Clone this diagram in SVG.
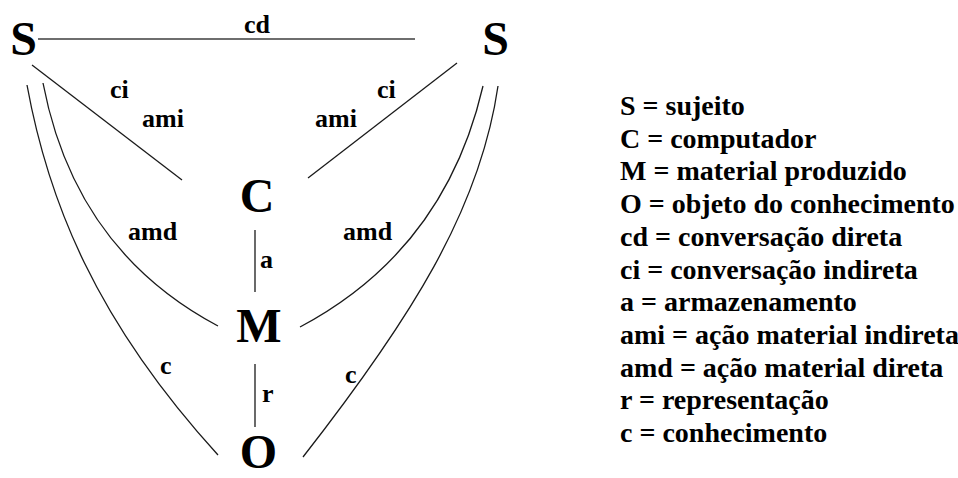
<svg xmlns="http://www.w3.org/2000/svg" width="958" height="478" viewBox="0 0 958 478">
  <style>
    .node { font-family: "Liberation Serif", "Times New Roman", serif; font-weight: bold; font-size: 48px; fill: #000; text-anchor: middle; }
    .lbl { font-family: "Liberation Serif", "Times New Roman", serif; font-weight: bold; font-size: 26px; fill: #000; }
    .leg { font-family: "Liberation Serif", "Times New Roman", serif; font-weight: bold; font-size: 28px; fill: #000; }
    .edge { fill: none; stroke: #1a1a1a; stroke-width: 1.3; }
    .edge-cd { fill: none; stroke: #6e6e6e; stroke-width: 2.2; }
  </style>
  <rect width="958" height="478" fill="#fff"/>

  <g id="connectors">
    <line class="edge-cd" x1="38" y1="39" x2="415" y2="39"/>
    <line class="edge" x1="32" y1="65" x2="182" y2="180"/>
    <line class="edge" x1="457" y1="63" x2="308" y2="178"/>
    <line class="edge" x1="255" y1="230" x2="255" y2="292"/>
    <line class="edge" x1="255" y1="364" x2="255" y2="427"/>
    <path class="edge" d="M43 83 Q75 250 218 326"/>
    <path class="edge" d="M483 86 Q445 250 300 327"/>
    <path class="edge" d="M27 85 C48 200 95 320 218 455"/>
    <path class="edge" d="M498 86 C480 210 410 320 303 457"/>
    <text class="lbl" x="244" y="33">cd</text>
    <text class="lbl" x="110" y="98">ci</text>
    <text class="lbl" x="142" y="127">ami</text>
    <text class="lbl" x="377" y="98">ci</text>
    <text class="lbl" x="315" y="127">ami</text>
    <text class="lbl" x="128" y="240">amd</text>
    <text class="lbl" x="343" y="240">amd</text>
    <text class="lbl" x="260" y="268">a</text>
    <text class="lbl" x="262" y="402">r</text>
    <text class="lbl" x="160" y="374">c</text>
    <text class="lbl" x="345" y="383">c</text>
  </g>

  <g id="node-S-left"><text class="node" x="23.5" y="55">S</text></g>
  <g id="node-S-right"><text class="node" x="495.5" y="55">S</text></g>
  <g id="node-C"><text class="node" x="257" y="212">C</text></g>
  <g id="node-M"><text class="node" x="259" y="342">M</text></g>
  <g id="node-O"><text class="node" x="258.5" y="468">O</text></g>

  <g id="legend">
    <text class="leg" x="620" y="115">S = sujeito</text>
    <text class="leg" x="620" y="147.7">C = computador</text>
    <text class="leg" x="620" y="180.4">M = material produzido</text>
    <text class="leg" x="620" y="213.1">O = objeto do conhecimento</text>
    <text class="leg" x="620" y="245.8">cd = conversação direta</text>
    <text class="leg" x="620" y="278.5">ci = conversação indireta</text>
    <text class="leg" x="620" y="311.2">a = armazenamento</text>
    <text class="leg" x="620" y="343.9">ami = ação material indireta</text>
    <text class="leg" x="620" y="376.6">amd = ação material direta</text>
    <text class="leg" x="620" y="409.3">r = representação</text>
    <text class="leg" x="620" y="442">c = conhecimento</text>
  </g>
</svg>
